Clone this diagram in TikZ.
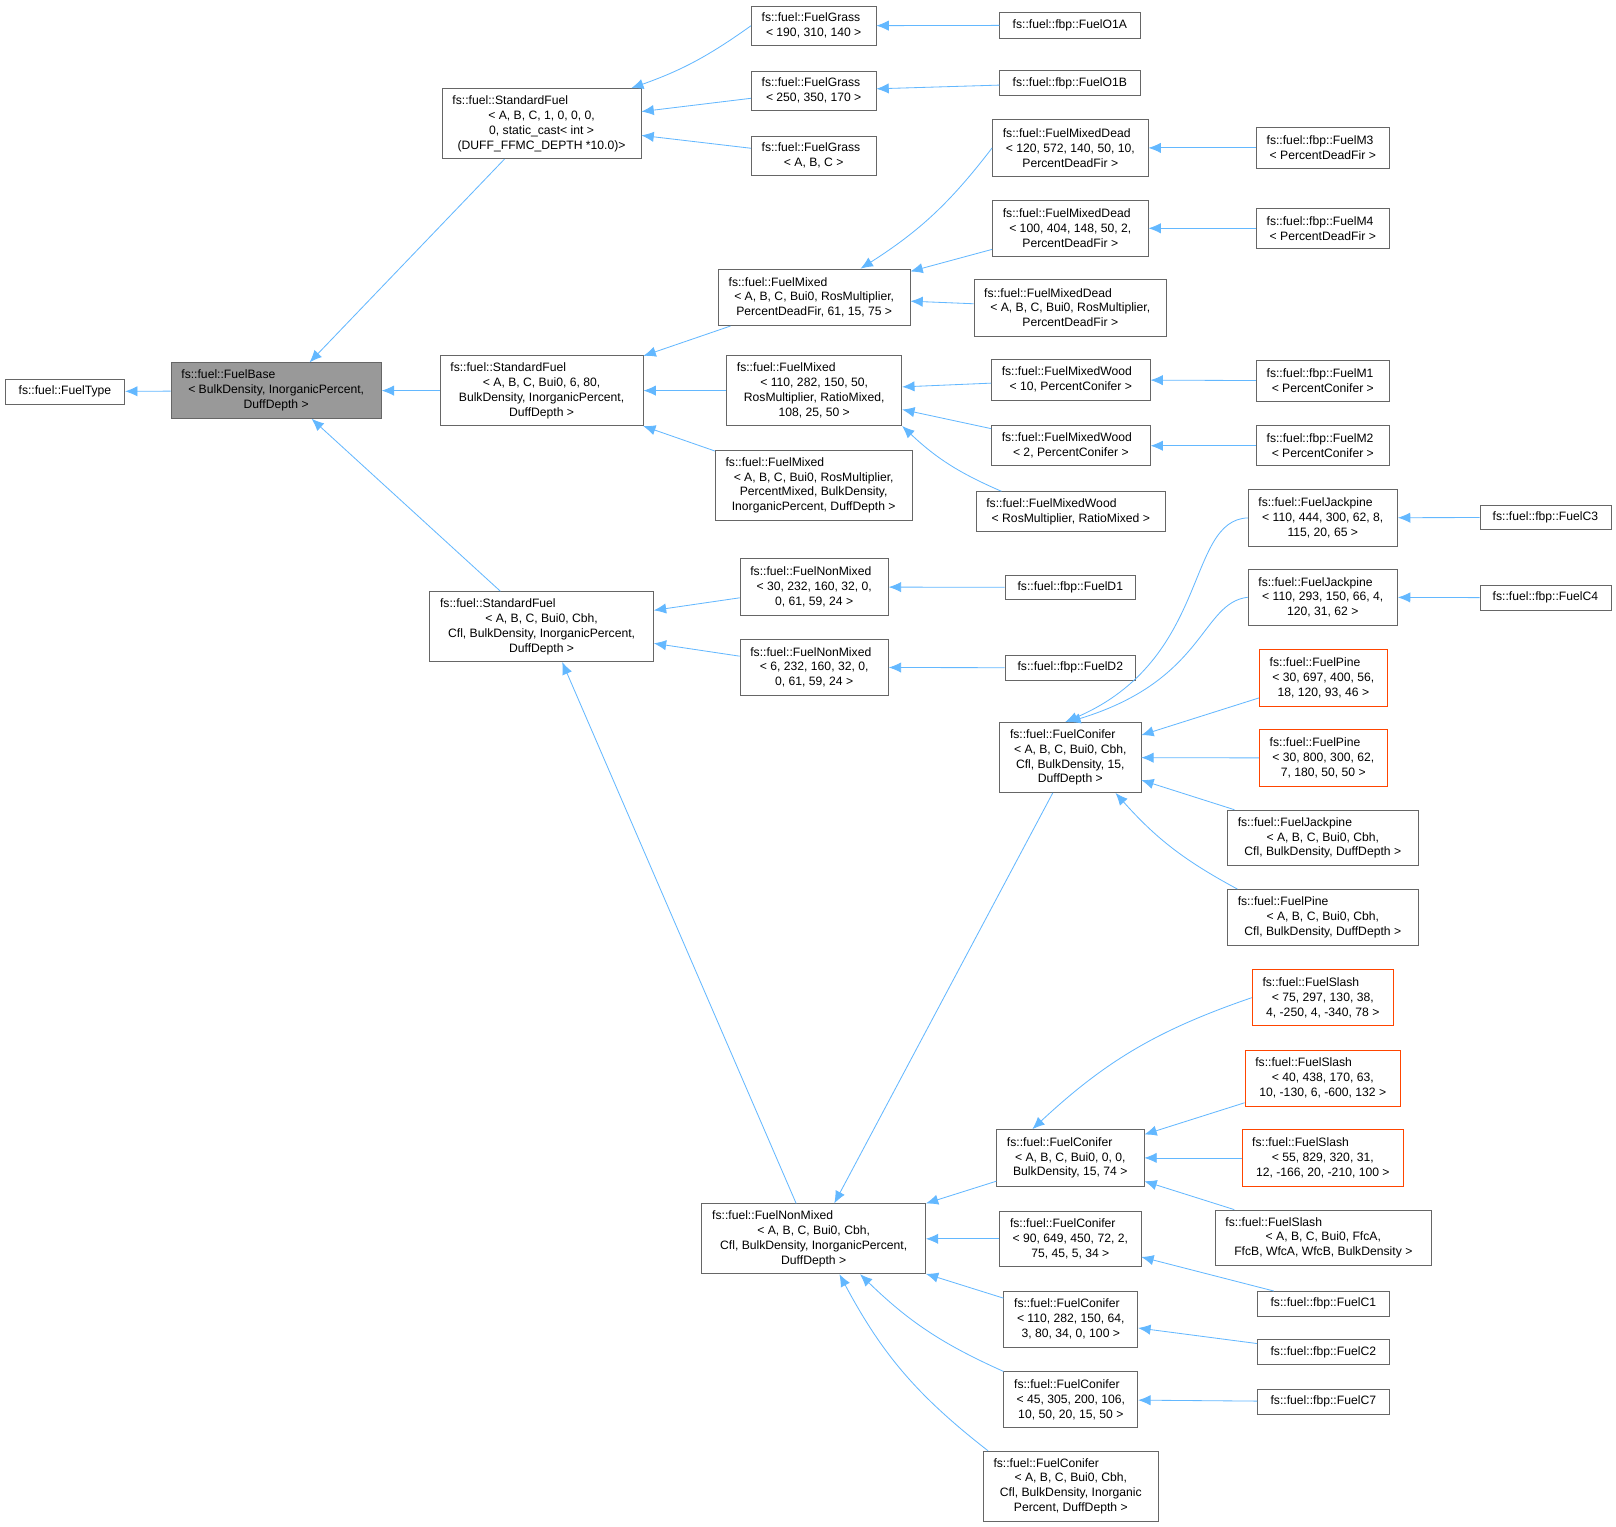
\documentclass[tikz,border=0pt]{standalone}
\usepackage{fontspec}
\setmainfont{Liberation Sans}
\usetikzlibrary{arrows.meta}
\definecolor{edgec}{HTML}{63B8FF}
\definecolor{bordc}{HTML}{666666}
\definecolor{redc}{HTML}{FF4500}
\tikzset{
 box/.style={draw=bordc,line width=0.7pt,fill=white,inner sep=0pt,align=center,font=\fontsize{11.8}{14.4}\selectfont},
 redbox/.style={box,draw=redc},
 graybox/.style={box,fill=black!40},
 inh/.style={draw=edgec,line width=0.8pt,-{Latex[length=12pt,width=10pt]}}
}
\newcommand\bx[8][box]{\node[#1,minimum width={#5pt-#3pt},minimum height={#6pt-#4pt}] (#2) at ({(#3+#5)/2},{-(#4+#6)/2}) {\makebox[\dimexpr#5pt-#3pt-20pt\relax][l]{#7}\\#8};}
\newcommand\bs[7][box]{\node[#1,minimum width={#5pt-#3pt},minimum height={#6pt-#4pt}] (#2) at ({(#3+#5)/2},{-(#4+#6)/2}) {#7};}
\begin{document}
\begin{tikzpicture}[x=1pt,y=1pt]
\useasboundingbox[fill=white] (0,0) rectangle (1568,-1481);
\bs{FT}{5}{368}{121}{392}{fs::fuel::FuelType}
\bx[graybox]{FB}{166}{352}{370}{406}{fs::fuel::FuelBase}{< BulkDensity, InorganicPercent,\\DuffDepth >}
\bx{SFa}{429}{86}{622}{154}{fs::fuel::StandardFuel}{< A, B, C, 1, 0, 0, 0,\\0, static\_cast< int >\\(DUFF\_FFMC\_DEPTH *10.0)>}
\bx{SFb}{427}{345}{624}{413}{fs::fuel::StandardFuel}{< A, B, C, Bui0, 6, 80,\\BulkDensity, InorganicPercent,\\DuffDepth >}
\bx{SFc}{417}{574}{634}{642}{fs::fuel::StandardFuel}{< A, B, C, Bui0, Cbh,\\Cfl, BulkDensity, InorganicPercent,\\DuffDepth >}
\bx{Ga}{729}{6}{850}{44}{fs::fuel::FuelGrass}{< 190, 310, 140 >}
\bx{Gb}{729}{69}{850}{107}{fs::fuel::FuelGrass}{< 250, 350, 170 >}
\bx{Gc}{729}{132}{850}{170}{fs::fuel::FuelGrass}{< A, B, C >}
\bs{OA}{970}{12}{1106}{37}{fs::fuel::fbp::FuelO1A}
\bs{OB}{970}{68}{1106}{93}{fs::fuel::fbp::FuelO1B}
\bx{Ma}{697}{261}{883}{316}{fs::fuel::FuelMixed}{< A, B, C, Bui0, RosMultiplier,\\PercentDeadFir, 61, 15, 75 >}
\bx{Mb}{705}{345}{875}{413}{fs::fuel::FuelMixed}{< 110, 282, 150, 50,\\RosMultiplier, RatioMixed,\\108, 25, 50 >}
\bx{Mc}{694}{437}{885}{505}{fs::fuel::FuelMixed}{< A, B, C, Bui0, RosMultiplier,\\PercentMixed, BulkDensity,\\InorganicPercent, DuffDepth >}
\bx{MDa}{963}{116}{1114}{171}{fs::fuel::FuelMixedDead}{< 120, 572, 140, 50, 10,\\PercentDeadFir >}
\bx{MDb}{963}{194}{1114}{249}{fs::fuel::FuelMixedDead}{< 100, 404, 148, 50, 2,\\PercentDeadFir >}
\bx{MDc}{945}{271}{1132}{326}{fs::fuel::FuelMixedDead}{< A, B, C, Bui0, RosMultiplier,\\PercentDeadFir >}
\bx{MiiiA}{1219}{124}{1348}{163}{fs::fuel::fbp::FuelM3}{< PercentDeadFir >}
\bx{MivA}{1219}{202}{1348}{241}{fs::fuel::fbp::FuelM4}{< PercentDeadFir >}
\bx{MWa}{962}{349}{1116}{388}{fs::fuel::FuelMixedWood}{< 10, PercentConifer >}
\bx{MWb}{962}{413}{1116}{452}{fs::fuel::FuelMixedWood}{< 2, PercentConifer >}
\bx{MWc}{947}{477}{1131}{516}{fs::fuel::FuelMixedWood}{< RosMultiplier, RatioMixed >}
\bx{MiA}{1219}{350}{1348}{389}{fs::fuel::fbp::FuelM1}{< PercentConifer >}
\bx{MiiA}{1219}{413}{1348}{452}{fs::fuel::fbp::FuelM2}{< PercentConifer >}
\bx{NMa}{718}{542}{862}{597}{fs::fuel::FuelNonMixed}{< 30, 232, 160, 32, 0,\\0, 61, 59, 24 >}
\bx{NMb}{718}{620}{862}{675}{fs::fuel::FuelNonMixed}{< 6, 232, 160, 32, 0,\\0, 61, 59, 24 >}
\bs{Di}{975}{558}{1102}{582}{fs::fuel::fbp::FuelD1}
\bs{Dii}{975}{636}{1102}{660}{fs::fuel::fbp::FuelD2}
\bx{NM}{681}{1168}{898}{1236}{fs::fuel::FuelNonMixed}{< A, B, C, Bui0, Cbh,\\Cfl, BulkDensity, InorganicPercent,\\DuffDepth >}
\bx{CB}{970}{701}{1107}{769}{fs::fuel::FuelConifer}{< A, B, C, Bui0, Cbh,\\Cfl, BulkDensity, 15,\\DuffDepth >}
\bx{JPa}{1211}{475}{1356}{530}{fs::fuel::FuelJackpine}{< 110, 444, 300, 62, 8,\\115, 20, 65 >}
\bx{JPb}{1211}{552}{1356}{607}{fs::fuel::FuelJackpine}{< 110, 293, 150, 66, 4,\\120, 31, 62 >}
\bs{Ciii}{1436}{490}{1563}{514}{fs::fuel::fbp::FuelC3}
\bs{Civ}{1436}{568}{1563}{592}{fs::fuel::fbp::FuelC4}
\bx[redbox]{Pa}{1222}{630}{1346}{685}{fs::fuel::FuelPine}{< 30, 697, 400, 56,\\18, 120, 93, 46 >}
\bx[redbox]{Pb}{1222}{708}{1346}{763}{fs::fuel::FuelPine}{< 30, 800, 300, 62,\\7, 180, 50, 50 >}
\bx{JPc}{1191}{786}{1376}{840}{fs::fuel::FuelJackpine}{< A, B, C, Bui0, Cbh,\\Cfl, BulkDensity, DuffDepth >}
\bx{Pc}{1191}{863}{1376}{917}{fs::fuel::FuelPine}{< A, B, C, Bui0, Cbh,\\Cfl, BulkDensity, DuffDepth >}
\bx{CS}{967}{1096}{1110}{1151}{fs::fuel::FuelConifer}{< A, B, C, Bui0, 0, 0,\\BulkDensity, 15, 74 >}
\bx[redbox]{Sa}{1215}{941}{1352}{995}{fs::fuel::FuelSlash}{< 75, 297, 130, 38,\\4, -250, 4, -340, 78 >}
\bx[redbox]{Sb}{1208}{1019}{1359}{1073}{fs::fuel::FuelSlash}{< 40, 438, 170, 63,\\10, -130, 6, -600, 132 >}
\bx[redbox]{Sc}{1205}{1096}{1362}{1151}{fs::fuel::FuelSlash}{< 55, 829, 320, 31,\\12, -166, 20, -210, 100 >}
\bx{Sd}{1179}{1174}{1389}{1228}{fs::fuel::FuelSlash}{< A, B, C, Bui0, FfcA,\\FfcB, WfcA, WfcB, BulkDensity >}
\bx{Ca}{970}{1175}{1107}{1229}{fs::fuel::FuelConifer}{< 90, 649, 450, 72, 2,\\75, 45, 5, 34 >}
\bx{Cb}{974}{1253}{1104}{1307}{fs::fuel::FuelConifer}{< 110, 282, 150, 64,\\3, 80, 34, 0, 100 >}
\bx{Cc}{974}{1331}{1104}{1385}{fs::fuel::FuelConifer}{< 45, 305, 200, 106,\\10, 50, 20, 15, 50 >}
\bx{Cd}{954}{1408}{1124}{1476}{fs::fuel::FuelConifer}{< A, B, C, Bui0, Cbh,\\Cfl, BulkDensity, Inorganic\\Percent, DuffDepth >}
\bs{Ci}{1220}{1253}{1348}{1277}{fs::fuel::fbp::FuelC1}
\bs{Cii}{1220}{1300}{1348}{1324}{fs::fuel::fbp::FuelC2}
\bs{Cvii}{1220}{1348}{1348}{1372}{fs::fuel::fbp::FuelC7}
% edges
\draw[inh] (FB) -- (FT);
\draw[inh] ([xshift=-36]SFa.south) -- ([xshift=-70]FB.north east);
\draw[inh] (SFb) -- (FB);
\draw[inh] ([xshift=-40]SFc.north) -- ([xshift=-68]FB.south east);
\draw[inh] (Ga.west) to[bend left=8] ([xshift=-10]SFa.north east);
\draw[inh] (Gb) -- (SFa);
\draw[inh] (Gc) -- (SFa);
\draw[inh] (OA) -- (Ga);
\draw[inh] (OB) -- (Gb);
\draw[inh] (Ma) -- (SFb);
\draw[inh] (Mb) -- (SFb);
\draw[inh] (Mc) -- (SFb);
\draw[inh] (MDa.west) to[bend left=10] ([xshift=45]Ma.north);
\draw[inh] (MDb) -- (Ma);
\draw[inh] (MDc) -- (Ma);
\draw[inh] (MiiiA) -- (MDa);
\draw[inh] (MivA) -- (MDb);
\draw[inh] (MWa) -- (Mb);
\draw[inh] (MWb) -- (Mb);
\draw[inh] ([xshift=25]MWc.north west) to[bend left=10] (Mb.south east);
\draw[inh] (MiA) -- (MWa);
\draw[inh] (MiiA) -- (MWb);
\draw[inh] (NMa) -- (SFc);
\draw[inh] (NMb) -- (SFc);
\draw[inh] (Di) -- (NMa);
\draw[inh] (Dii) -- (NMb);
\draw[inh] ([xshift=-17]NM.north) -- ([xshift=20]SFc.south);
\draw[inh] ([xshift=-17]CB.south) -- ([xshift=20]NM.north);
\draw[inh] (JPa.west) .. controls (1150,-505) and (1175,-640) .. ([xshift=-5]CB.north);
\draw[inh] (JPb.west) .. controls (1165,-585) and (1170,-660) .. ([xshift=-2]CB.north);
\draw[inh] (Pa) -- (CB);
\draw[inh] (Pb) -- (CB);
\draw[inh] (JPc) -- (CB);
\draw[inh] ([xshift=10]Pc.north west) to[bend left=10] ([xshift=-25]CB.south east);
\draw[inh] (Ciii) -- (JPa);
\draw[inh] (Civ) -- (JPb);
\draw[inh] (CS) -- (NM);
\draw[inh] (Sa.west) to[bend right=12] ([xshift=35]CS.north west);
\draw[inh] (Sb) -- (CS);
\draw[inh] (Sc) -- (CS);
\draw[inh] (Sd) -- (CS);
\draw[inh] (Ca) -- (NM);
\draw[inh] (Cb) -- (NM);
\draw[inh] (Cc.north west) to[bend left=10] ([xshift=45]NM.south);
\draw[inh] ([xshift=5]Cd.north west) to[bend left=12] ([xshift=25]NM.south);
\draw[inh] (Ci) -- (Ca);
\draw[inh] (Cii) -- (Cb);
\draw[inh] (Cvii) -- (Cc);
\end{tikzpicture}
\end{document}
